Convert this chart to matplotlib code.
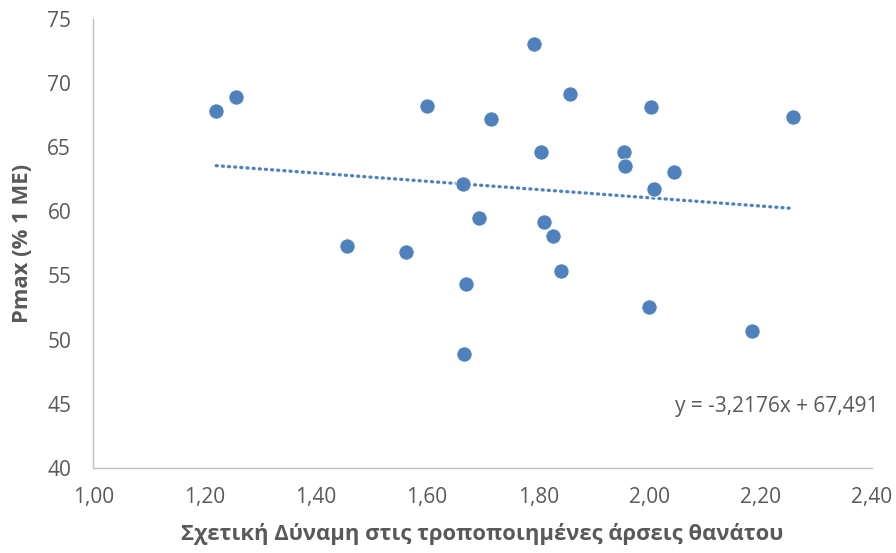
import matplotlib
matplotlib.use("Agg")
import matplotlib.pyplot as plt
import numpy as np

plt.rcParams['font.family'] = ['Open Sans', 'DejaVu Sans']

# Relative strength vs. Pmax
rel_strength = [1.221, 1.257, 1.456, 1.562, 1.600, 1.793, 1.857, 1.715, 2.003, 2.258,
                1.805, 1.955, 1.956, 2.044, 1.665, 2.009, 1.693, 1.811, 1.826, 1.842,
                1.670, 2.000, 2.185, 1.667]
pmax = [67.85, 68.95, 57.3, 56.8, 68.2, 73.05, 69.15, 67.18, 68.16, 67.33,
        64.62, 64.65, 63.56, 63.04, 62.13, 61.72, 59.45, 59.19, 58.07, 55.34,
        54.3, 52.56, 50.64, 48.89]

slope = -3.2176
intercept = 67.491
x_ticks = [1.00, 1.20, 1.40, 1.60, 1.80, 2.00, 2.20, 2.40]
x_tick_labels = ['1,00', '1,20', '1,40', '1,60', '1,80', '2,00', '2,20', '2,40']
y_ticks = [40, 45, 50, 55, 60, 65, 70, 75]

blue = '#4F81BD'
grey_text = '#595959'

fig = plt.figure(figsize=(8.96, 5.53), dpi=100)
ax = fig.add_axes([0.1042, 0.1542, 0.8687, 0.8114])

ax.scatter(rel_strength, pmax, s=120, color=blue, edgecolors='white',
           linewidths=0.6, zorder=3)

xl = np.array([min(rel_strength), max(rel_strength)])
ax.plot(xl, slope * xl + intercept, color=blue, linewidth=2.4,
        linestyle=(0, (0.3, 1.55)), dash_capstyle='round', zorder=2)

ax.text(2.046, 44.76, 'y = -3,2176x + 67,491', fontsize=15, color=grey_text,
        ha='left', va='center')

ax.set_xlim(1.0, 2.4)
ax.set_ylim(40, 75)
ax.set_xticks(x_ticks)
ax.set_xticklabels(x_tick_labels)
ax.set_yticks(y_ticks)
ax.tick_params(length=0, labelsize=15, labelcolor=grey_text)
ax.tick_params(axis='x', pad=14)
ax.tick_params(axis='y', pad=16)

for side in ['top', 'right']:
    ax.spines[side].set_visible(False)
for side in ['left', 'bottom']:
    ax.spines[side].set_color('#BFBFBF')
    ax.spines[side].set_linewidth(1.0)

ax.set_xlabel('Σχετική Δύναμη στις τροποποιημένες άρσεις θανάτου',
              fontsize=15.8, fontweight='bold', color=grey_text, labelpad=11)
ax.set_ylabel('Pmax (% 1 ME)', fontsize=15.8, fontweight='bold', color=grey_text,
              labelpad=10)

fig.savefig('out.png', dpi=100)
